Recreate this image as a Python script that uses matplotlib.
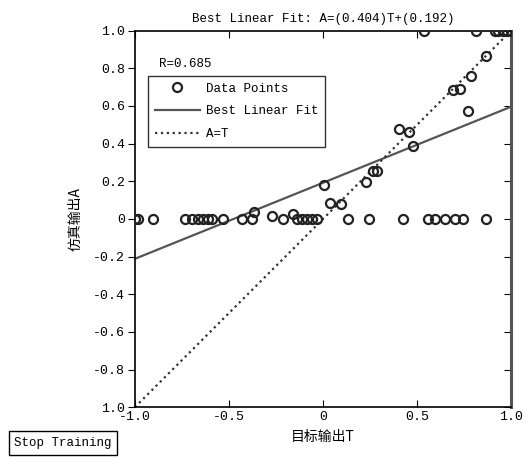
import numpy as np
import matplotlib
matplotlib.use('Agg')
import matplotlib.pyplot as plt

# target T and simulated output A read off the scatter
target_t = [-1.0, -0.982, -0.903, -0.734, -0.698, -0.663, -0.637, -0.610, -0.592,
            -0.530, -0.432, -0.379, -0.367, -0.273, -0.211, -0.158, -0.140, -0.113,
            -0.087, -0.060, -0.034, 0.135, 0.246, 0.424, 0.560, 0.596, 0.649,
            0.702, 0.746, 0.865,
            0.005, 0.037, 0.096, 0.229, 0.268, 0.286,
            0.406, 0.459, 0.480, 0.693, 0.729, 0.773, 0.787, 0.867,
            0.537, 0.812, 0.915, 0.932, 0.956, 0.977, 1.0]
output_a = [0.0, 0.0, 0.0, 0.0, 0.0, 0.0, 0.0, 0.0, 0.0,
            0.0, 0.0, 0.0, 0.037, 0.015, 0.0, 0.025, 0.0, 0.0,
            0.0, 0.0, 0.0, 0.0, 0.0, 0.0, 0.0, 0.0, 0.0,
            0.0, 0.0, 0.0,
            0.182, 0.087, 0.079, 0.195, 0.252, 0.252,
            0.478, 0.460, 0.386, 0.685, 0.690, 0.575, 0.761, 0.867,
            1.0, 1.0, 1.0, 1.0, 1.0, 1.0, 1.0]

fit_slope = 0.404
fit_intercept = 0.192
r_value = 0.685

x_ticks = [-1.0, -0.5, 0.0, 0.5, 1.0]
x_tick_labels = ['-1.0', '-0.5', '0', '0.5', '1.0']
y_ticks = [1.0, 0.8, 0.6, 0.4, 0.2, 0.0, -0.2, -0.4, -0.6, -0.8, -1.0]
y_tick_labels = ['1.0', '0.8', '0.6', '0.4', '0.2', '0', '-0.2', '-0.4', '-0.6', '-0.8', '1.0']

MONO = ['Liberation Mono', 'Noto Sans CJK SC']
CJK = ['Noto Sans CJK SC', 'DejaVu Sans']


def main():
    fig = plt.figure(figsize=(5.27, 4.57), dpi=100)
    ax = fig.add_axes([0.256, 0.109, 0.714, 0.824])

    line_x = np.array([-1.0, 1.0])
    ax.plot(target_t, output_a, 'o', ms=6.5, mfc='none', mec='#222222', mew=1.6,
            label='Data Points', zorder=3)
    ax.plot(line_x, fit_slope * line_x + fit_intercept, '-', color='#555555', lw=1.6,
            label='Best Linear Fit')
    ax.plot(line_x, line_x, ':', color='#333333', lw=1.6, label='A=T')

    ax.set_xlim(-1, 1)
    ax.set_ylim(-1, 1)
    ax.set_xticks(x_ticks)
    ax.set_xticklabels(x_tick_labels, family=MONO, fontsize=9.5)
    ax.set_yticks(y_ticks)
    ax.set_yticklabels(y_tick_labels, family=MONO, fontsize=9.5)
    ax.tick_params(axis='x', direction='in', top=True, length=5, pad=3)
    ax.tick_params(axis='y', direction='out', length=5, pad=2)
    ax.tick_params(axis='y', which='major', right=True)
    for t in ax.yaxis.get_ticklines()[1::2]:
        t.set_marker(0)  # right side ticks point inward
    for sp in ax.spines.values():
        sp.set_linewidth(1.2)
    ax.spines['right'].set_linewidth(2.2)
    ax.spines['right'].set_color('#555555')

    ax.set_title('Best Linear Fit: A=(%.3f)T+(%.3f)' % (fit_slope, fit_intercept),
                 family=MONO, fontsize=9, pad=6)
    ax.set_xlabel('目标输出T', family=CJK, fontsize=10, labelpad=5)
    ax.set_ylabel('仿真输出A', family=CJK, fontsize=10, labelpad=8)

    ax.text(-0.87, 0.825, 'R=%.3f' % r_value, family=MONO, fontsize=9, va='center')
    leg = ax.legend(loc='upper left', bbox_to_anchor=(0.035, 0.88), prop={'family': MONO, 'size': 9},
                    frameon=True, fancybox=False, edgecolor='black', borderpad=0.55,
                    handlelength=3.6, handletextpad=0.45, labelspacing=0.85, borderaxespad=0)
    leg.get_frame().set_linewidth(1.0)

    fig.text(0.027, 0.024, 'Stop Training', family=MONO, fontsize=9,
             bbox=dict(boxstyle='square,pad=0.45', fc='white', ec='black', lw=1.0))

    fig.savefig('out.png', dpi=100)


if __name__ == '__main__':
    main()
